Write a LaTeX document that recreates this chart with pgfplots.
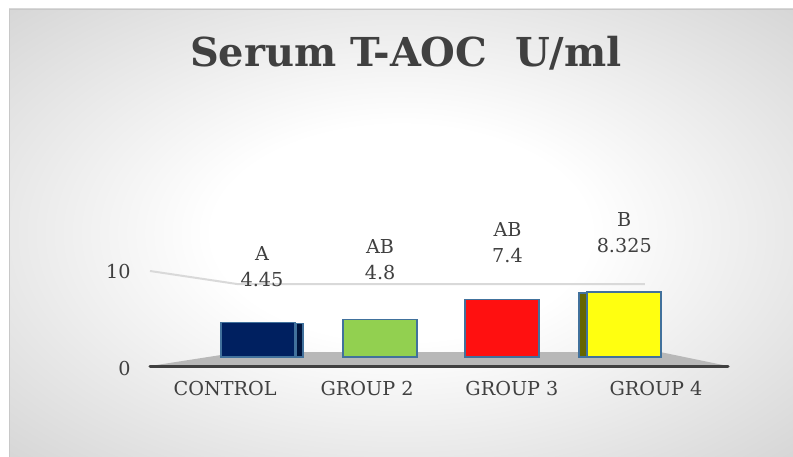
\documentclass[border=0pt]{standalone}
\usepackage{pgfplots}
\pgfplotsset{compat=1.18}
\usepackage{fontspec}
\setmainfont{DejaVu Serif}
\definecolor{navy}{HTML}{002060}
\definecolor{navyside}{HTML}{00143C}
\definecolor{grn}{HTML}{92D050}
\definecolor{rd}{HTML}{FF1010}
\definecolor{yel}{HTML}{FFFF10}
\definecolor{yelside}{HTML}{666600}
\definecolor{bord}{HTML}{41719C}
\definecolor{txt}{HTML}{404040}
\definecolor{floorc}{HTML}{B8B8B8}
\definecolor{gridc}{HTML}{D9D9D9}
\definecolor{bgmid}{HTML}{D2D2D2}
\definecolor{bggrey}{HTML}{CCCCCC}
\definecolor{bgdark}{HTML}{C4C4C4}
\definecolor{framec}{HTML}{C8C8C8}
\pgfdeclareradialshading{bgshade}{\pgfpoint{0bp}{0bp}}{color(0bp)=(white); color(12bp)=(white); color(38bp)=(bgmid); color(50bp)=(bggrey); color(72bp)=(bgdark)}
\begin{document}
\begin{tikzpicture}
\useasboundingbox (0,0) rectangle (594.75pt,342.75pt);
\fill[white] (0,0) rectangle (594.75pt,342.75pt);
\shade[shading=bgshade] (6.75pt,0) rectangle (594.75pt,336pt);
\draw[framec, line width=0.75pt] (7.1pt,-1pt) -- (7.1pt,335.6pt) -- (596pt,335.6pt);
\node[anchor=base, text=txt, font=\fontsize{29.9}{36}\selectfont\bfseries] at (304.5pt,292.5pt) {Serum T-AOC\ \ U/ml};
\begin{axis}[
  scale only axis,
  width=433.5pt, height=78.98pt,
  at={(112.5pt,66.2pt)}, anchor=south west,
  xmin=-0.885, xmax=3.85,
  ymin=-1.5, ymax=12,
  clip=false,
  axis line style={draw=none},
  major tick length=0pt,
  xtick={-0.27,0.893,2.08,3.26},
  xticklabels={CONTROL,GROUP 2,GROUP 3,GROUP 4},
  ytick={-1.41,10.9},
  yticklabels={0,10},
  ticklabel style={text=txt, font=\fontsize{14.4}{17}\selectfont},
  yticklabel style={xshift=-11pt},
  xticklabel style={yshift=-6pt},
  nodes near coords style={align=center, anchor=center, text=txt, font=\fontsize{14.4}{19.5}\selectfont},
]
% floor
\fill[floorc] (axis cs:-0.885,-1.154) -- (axis cs:-0.148,0.64) -- (axis cs:3.295,0.64) -- (axis cs:3.85,-1.154) -- cycle;
% back gridline at 10
\draw[gridc, line width=1.5pt] (axis cs:-0.885,11.03) -- (axis cs:-0.172,9.36) -- (axis cs:3.17,9.36);
% side faces
\addplot[ybar, bar width=5.25pt, bar shift=31.1pt, fill=navyside, draw=bord, line width=1.2pt] coordinates {(0,4.3)};
\addplot[ybar, bar width=6.75pt, bar shift=-30.4pt, fill=yelside, draw=bord, line width=1.2pt] coordinates {(3,8.2)};
% front faces
\addplot[ybar, bar width=55.5pt, bar shift=0pt, fill=navy, draw=bord, line width=1.2pt,
  nodes near coords={A\\4.45}, nodes near coords style={yshift=42pt, xshift=3pt}] coordinates {(0,4.45)};
\addplot[ybar, bar width=55.5pt, bar shift=0pt, fill=grn, draw=bord, line width=1.2pt,
  nodes near coords={AB\\4.8}, nodes near coords style={yshift=45pt}] coordinates {(1,4.8)};
\addplot[ybar, bar width=55.5pt, bar shift=0pt, fill=rd, draw=bord, line width=1.2pt,
  nodes near coords={AB\\7.4}, nodes near coords style={yshift=42.4pt, xshift=4pt}] coordinates {(2,7.4)};
\addplot[ybar, bar width=55.5pt, bar shift=0pt, fill=yel, draw=bord, line width=1.2pt,
  nodes near coords={B\\8.325}, nodes near coords style={yshift=44.6pt}] coordinates {(3,8.325)};
% x axis line
\draw[txt, line width=2.25pt, line cap=round] (axis cs:-0.885,-1.154) -- (axis cs:3.85,-1.154);
\end{axis}
\end{tikzpicture}
\end{document}
